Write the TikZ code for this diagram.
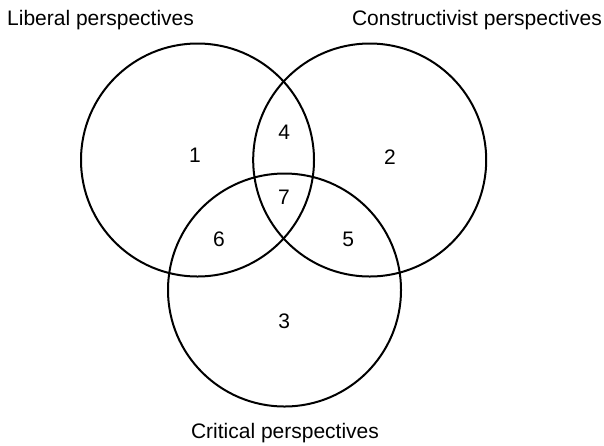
\documentclass[tikz,border=0pt]{standalone}
\usepackage{fontspec}
\setmainfont{Liberation Sans}

\begin{document}
\begin{tikzpicture}[x=1pt, y=-1pt,
         set/.style={circle, draw, line width=2pt, minimum size=233pt, inner sep=0pt},
         region/.style={inner sep=0pt, font=\fontsize{21}{21}\selectfont},
         title/.style={inner sep=0pt, font=\fontsize{21}{21}\selectfont}]
         \useasboundingbox (0,0) rectangle (604,445);
         \node[set] (L) at (197.5,160) {};
         \node[set] (C) at (369.7,160) {};
         \node[set] (K) at (284.5,290) {};
         \node[title, anchor=base west] (Ltitle) at (7,25) {Liberal perspectives};
         \node[title, anchor=base east] (Ctitle) at (602,25) {Constructivist perspectives};
         \node[title, anchor=base] (Ktitle) at (285,438) {Critical perspectives};
         \node[region] (r1) at (195,155) {1};
         \node[region] (r2) at (390,157.5) {2};
         \node[region] (r3) at (284.3,321) {3};
         \node[region] (r4) at (284.3,132.5) {4};
         \node[region] (r5) at (348.3,239) {5};
         \node[region] (r6) at (219,239) {6};
         \node[region] (r7) at (284,197.5) {7};
      \end{tikzpicture}
\end{document}
